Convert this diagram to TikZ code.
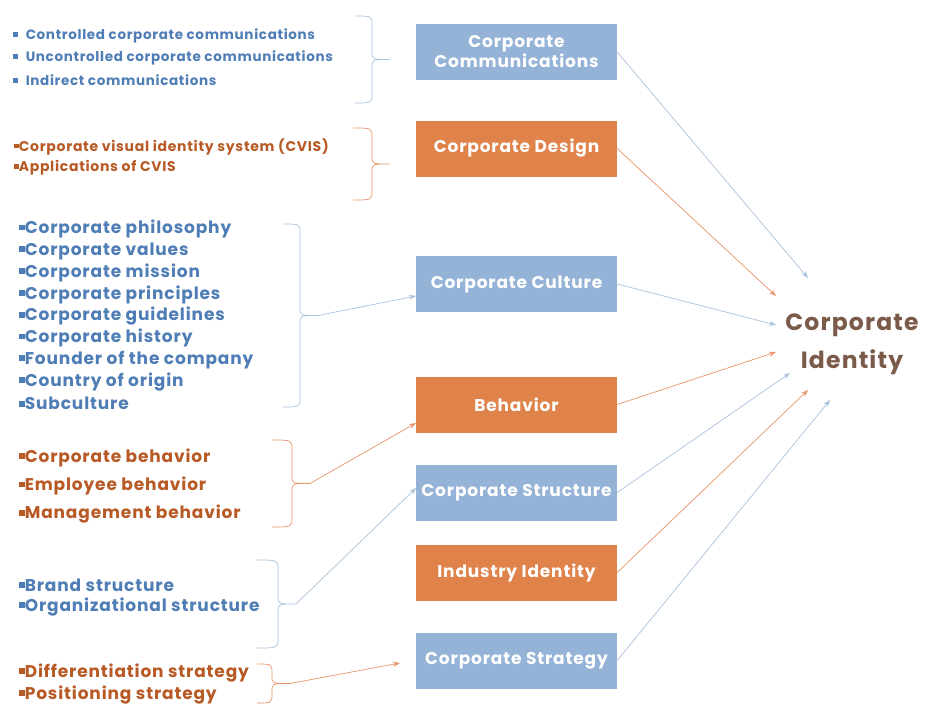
\documentclass[tikz,border=0pt]{standalone}
\usepackage{fontspec}
\usetikzlibrary{arrows.meta}
\setmainfont{Poppins}[LetterSpace=5]
\definecolor{bbox}{HTML}{95B3D7}
\definecolor{obox}{HTML}{E0834A}
\definecolor{btxt}{HTML}{4F7DB5}
\definecolor{otxt}{HTML}{B85A25}
\definecolor{blin}{HTML}{A9C2DD}
\definecolor{olin}{HTML}{E8936A}
\definecolor{idt}{HTML}{7A5A48}
\newcommand{\bul}{\rule[0.2em]{0.33em}{0.33em}}
\tikzset{
 box/.style={minimum width=201pt,minimum height=56pt,inner sep=0pt,text=white,font=\bfseries\fontsize{17}{20}\selectfont,align=center},
 bb/.style={box,fill=bbox},
 ob/.style={box,fill=obox},
 li/.style={anchor=west,inner sep=0pt,font=\bfseries\fontsize{#1}{#1}\selectfont},
 bl/.style={line width=0.7pt,blin},
 ol/.style={line width=0.7pt,olin},
 arr/.style={-{Stealth[length=7pt,width=5pt]}},
}
\newcommand{\brc}[5]{% x0 x1 ytop ybot style
 \draw[#5] (#1,#3) .. controls (#2,#3) .. (#2,#3+10) -- (#2,{(#3+#4)/2-8}) .. controls (#2,{(#3+#4)/2}) .. (#2+18,{(#3+#4)/2})
  .. controls (#2,{(#3+#4)/2}) .. (#2,{(#3+#4)/2+8}) -- (#2,#4-10) .. controls (#2,#4) .. (#1,#4);}
\begin{document}
\begin{tikzpicture}[x=1pt,y=-1pt]
\useasboundingbox[fill=white] (0,0) rectangle (952,712);
\node[bb] (cc) at (516.5,52) {Corporate\\Communications};
\node[ob] (cd) at (516.5,148.5) {Corporate Design};
\node[bb] (cu) at (516.5,284) {Corporate Culture};
\node[ob] (be) at (516.5,404.5) {Behavior};
\node[bb] (cs) at (516.5,492.5) {Corporate Structure};
\node[ob] (ii) at (516.5,572.5) {Industry Identity};
\node[bb] (st) at (516.5,660.5) {Corporate Strategy};
\node[text=idt,font=\bfseries\fontsize{23.5}{38}\selectfont,align=center] (ci) at (852,344) {Corporate\\Identity};
\coordinate (e1) at (808,278); \coordinate (e2) at (776,296); \coordinate (e3) at (776,325);
\coordinate (e4) at (776,352); \coordinate (e5) at (790,373); \coordinate (e6) at (808,390); \coordinate (e7) at (830,400);
\draw[bl,arr] (cc.east) -- (e1);
\draw[ol,arr] (cd.east) -- (e2);
\draw[bl,arr] (cu.east) -- (e3);
\draw[ol,arr] (be.east) -- (e4);
\draw[bl,arr] (cs.east) -- (e5);
\draw[ol,arr] (ii.east) -- (e6);
\draw[bl,arr] (st.east) -- (e7);
% left lists
\foreach \t [count=\i] in {Controlled corporate communications,Uncontrolled corporate communications,Indirect communications}
 \node[li=13.5,text=btxt] (a\i) at (13,{14+22*\i}) {\bul\hspace{0.6em}\t};
\foreach \t [count=\i] in {Corporate visual identity system (CVIS),Applications of CVIS}
 \node[li=14,text=otxt] (b\i) at (14,{125+21.5*\i}) {\bul\t};
\foreach \t [count=\i] in {Corporate philosophy,Corporate values,Corporate mission,Corporate principles,Corporate guidelines,Corporate history,Founder of the company,Country of origin,Subculture}
 \node[li=17,text=btxt] (c\i) at (19,{207.5+21.8*\i}) {\bul\t};
\foreach \t [count=\i] in {Corporate behavior,Employee behavior,Management behavior}
 \node[li=17,text=otxt] (d\i) at (19,{429+28.5*\i}) {\bul\t};
\foreach \t [count=\i] in {Brand structure,Organizational structure}
 \node[li=17,text=btxt] (f\i) at (19,{563+22*\i}) {\bul\t};
\foreach \t [count=\i] in {Differentiation strategy,Positioning strategy}
 \node[li=17,text=otxt] (g\i) at (19,{651+22*\i}) {\bul\t};
% braces
\brc{355}{372}{16}{103}{bl}
\brc{353}{372}{128}{200}{ol}
\brc{283}{300}{224}{407}{bl}
\brc{272}{292}{440}{527}{ol}
\brc{257}{278}{560}{648}{bl}
\brc{257}{272}{664}{703}{ol}
\coordinate (t3) at (318,315.5); \coordinate (t4) at (310,483.5);
\coordinate (t5) at (296,604); \coordinate (t6) at (290,683.5);
\draw[bl,arr] (t3) -- (416,296);
\draw[ol,arr] (t4) -- (416,423);
\draw[bl,arr] (t5) -- (416,488);
\draw[ol,arr] (t6) -- (400,663);
\end{tikzpicture}
\end{document}
